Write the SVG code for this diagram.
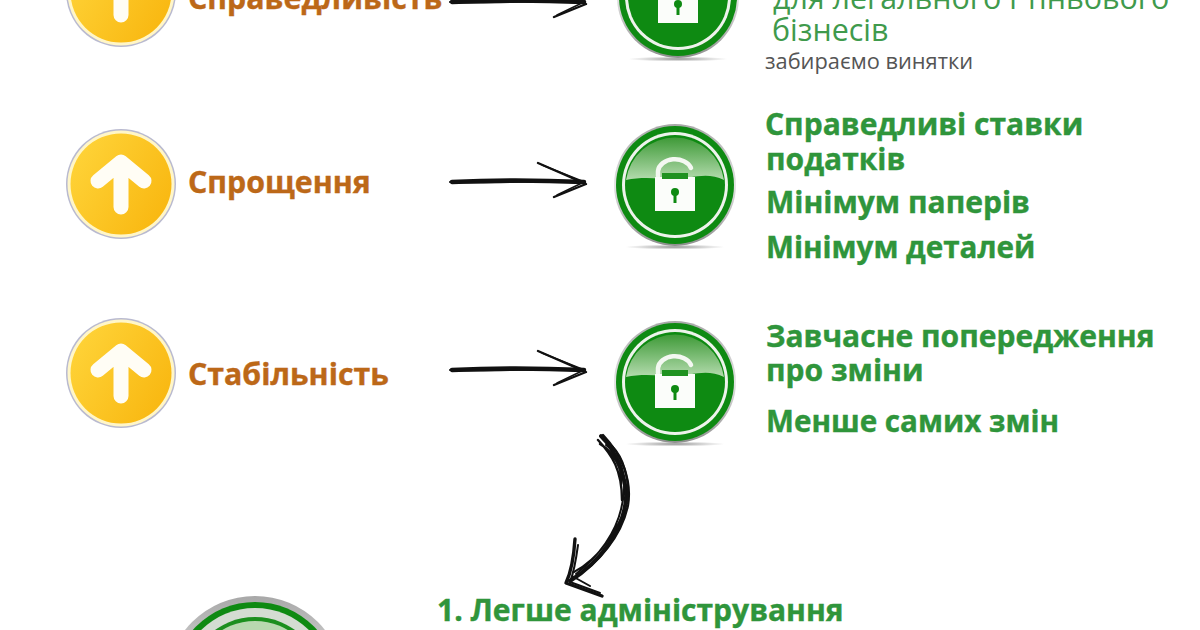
<svg xmlns="http://www.w3.org/2000/svg" width="1200" height="630" viewBox="0 0 1200 630">
<style>
text{font-family:"Open Sans","Noto Sans","DejaVu Sans",sans-serif}
.o{font-weight:700;font-size:30.3px;fill:#bc6818;stroke:#bc6818;stroke-width:.4}
.g{font-weight:700;font-size:30px;fill:#2f953b;stroke:#2f953b;stroke-width:.4}
.r{font-size:30.4px;fill:#3f9a4c}
.s{font-size:21.8px;fill:#555}
.ink{fill:none;stroke:#111;stroke-linecap:round;stroke-linejoin:round}
</style>
<defs>
<linearGradient id="y" x1="0" y1="0" x2="1" y2=".6"><stop offset="0" stop-color="#ffd63c"/><stop offset="1" stop-color="#f9b913"/></linearGradient>
<linearGradient id="gl" x1="0" y1="0" x2="0" y2="1"><stop offset="0" stop-color="#3f9a38"/><stop offset="1" stop-color="#b4dcae"/></linearGradient>
<linearGradient id="rim" x1="0" y1="0" x2="0" y2="1"><stop offset="0" stop-color="#a8a8a8"/><stop offset="0.5" stop-color="#e4e4e4"/><stop offset="1" stop-color="#8f8f8f"/></linearGradient>
<radialGradient id="sh"><stop offset="0" stop-color="#777" stop-opacity=".8"/><stop offset="1" stop-color="#888" stop-opacity="0"/></radialGradient>
<g id="up">
<circle r="55" fill="#b9bad0"/>
<circle r="53.5" fill="#fff6c8"/>
<circle r="50.5" fill="url(#y)"/>
<path d="M0 23V-20M-23 -3L0 -22L23 -3" fill="none" stroke="#fffdf5" stroke-width="15" stroke-linecap="round" stroke-linejoin="round"/>
</g>
<g id="lock">
<ellipse cy="62" rx="50" ry="2.5" fill="url(#sh)"/>
<circle r="61" fill="url(#rim)"/>
<circle r="59" fill="#0e8a12"/>
<circle r="53" fill="#eef3ec"/>
<circle r="50" fill="#0e8a12"/>
<path d="M-49 -5A49.5 49.5 0 0 1 49 -5C32 -14 14 -6 0 -6C-14 -6 -32 -9 -49 -5Z" fill="url(#gl)"/>
<path d="M-17 -9V-14A17 13 0 0 1 16 -17" fill="none" stroke="#f4f8f2" stroke-width="4.5" stroke-linecap="round"/>
<rect x="-20" y="-8" width="40" height="34" fill="#fbfdfa"/>
<rect x="-13" y="-12" width="26" height="6" fill="#1f9220"/>
<circle cy="7" r="4" fill="#0e8a12"/>
<rect x="-1.5" y="7" width="3" height="11" fill="#0e8a12"/>
</g>
<g id="arrow">
<path class="ink" stroke-width="4.5" d="M2 0C40 -2 90 -2 134 0"/>
<path class="ink" stroke-width="2" d="M0 0C50 2 90 -3 132 1"/>
<path class="ink" stroke-width="2.4" d="M88 -19L136 2L104 15"/>
<path class="ink" stroke-width="1.4" d="M92 -17L132 -1M107 13L134 0L122 -4"/>
</g>
</defs>
<rect width="1200" height="630" fill="#fff"/>
<g id="connectors">
<use href="#arrow" x="450" y="2"/>
<use href="#arrow" x="450" y="182"/>
<use href="#arrow" x="450" y="370"/>
<g id="curved-arrow">
<path class="ink" stroke-width="4" d="M601 436C616 450 627 480 626 498C624 530 600 562 570 581"/>
<path class="ink" stroke-width="2.4" d="M603 435C622 455 632 480 628 505C622 535 598 565 573 578M598 440C612 455 622 470 622 500M600 444C614 452 624 470 621 485"/>
<path class="ink" stroke-width="2" d="M606 445C620 455 625 470 624 490C622 525 604 552 576 574M612 446C624 458 630 480 627 500C620 532 596 560 574 572"/>
<path class="ink" stroke-width="3.4" d="M575 539C574 555 572 570 566 583L602 596"/>
<path class="ink" stroke-width="2" d="M578 545C576 560 574 572 570 582L600 593M572 576L590 586"/>
</g>
</g>
<g id="node-spravedlyvist">
<use href="#up" x="121" y="-8"/>
<text class="o" x="188" y="9">Справедливість</text>
</g>
<g id="node-sproshchennia">
<use href="#up" x="121" y="184"/>
<text class="o" x="188" y="193">Спрощення</text>
</g>
<g id="node-stabilnist">
<use href="#up" x="121" y="373"/>
<text class="o" x="188" y="385">Стабільність</text>
</g>
<g id="node-lock-1">
<use href="#lock" x="678" y="-3"/>
<text class="r" x="773" y="9">для легального і тіньового</text>
<text class="r" x="772" y="41">бізнесів</text>
<text class="s" x="765" y="69">забираємо винятки</text>
</g>
<g id="node-lock-2">
<use href="#lock" x="675" y="185"/>
<text class="g" x="765" y="135">Справедливі ставки</text>
<text class="g" x="766" y="170">податків</text>
<text class="g" x="766" y="213">Мінімум паперів</text>
<text class="g" x="766" y="258" font-size="29.6" style="font-size:29.6px">Мінімум деталей</text>
</g>
<g id="node-lock-3">
<use href="#lock" x="675" y="382"/>
<text class="g" x="766" y="347">Завчасне попередження</text>
<text class="g" x="766" y="381">про зміни</text>
<text class="g" x="766" y="432" style="font-size:29.6px">Менше самих змін</text>
</g>
<g id="node-bottom">
<circle cx="255" cy="685" r="89" fill="url(#rim)"/>
<circle cx="255" cy="685" r="83" fill="#0e8a12"/>
<circle cx="255" cy="685" r="77" fill="#d4dcd2"/>
<circle cx="255" cy="685" r="68" fill="#1b8f1e"/>
<circle cx="255" cy="685" r="64" fill="#b8d8b0"/>
<text class="g" x="437" y="621">1. Легше адміністрування</text>
</g>
</svg>
